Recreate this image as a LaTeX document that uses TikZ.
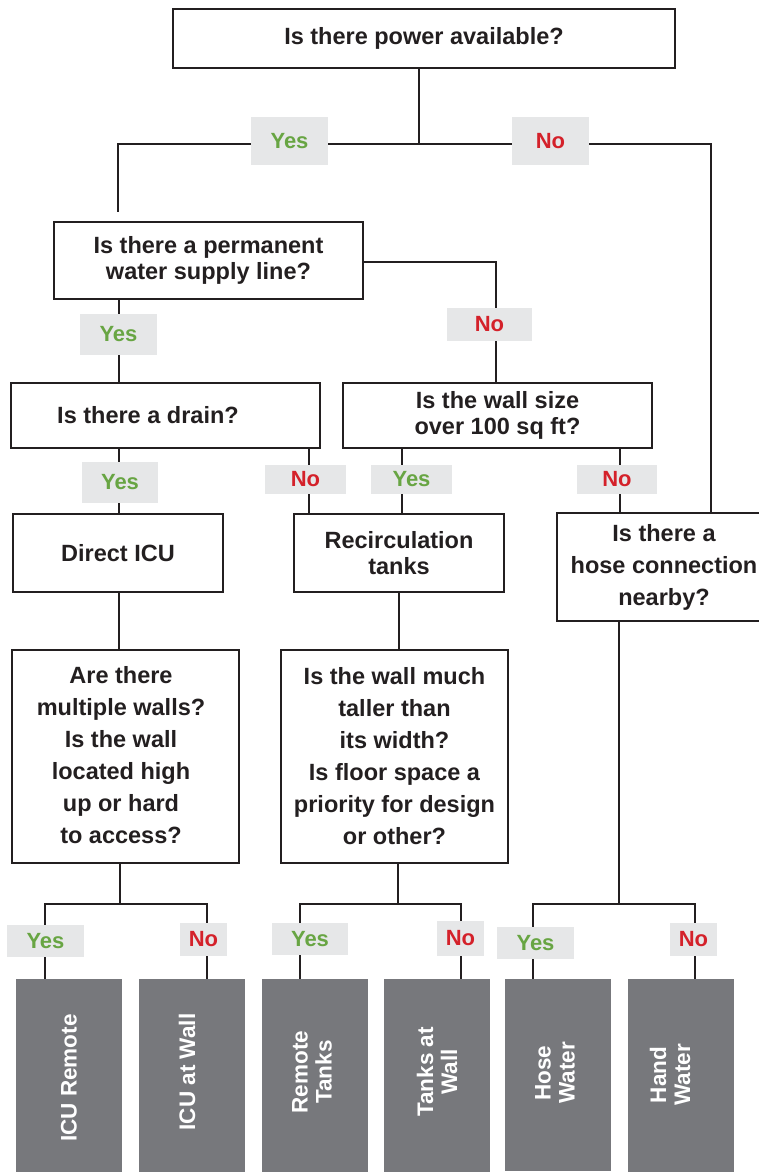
\documentclass[tikz,border=0pt]{standalone}
\usepackage{fontspec}
\setmainfont{Liberation Sans}
\definecolor{ink}{RGB}{35,31,32}
\definecolor{yesgreen}{RGB}{104,165,67}
\definecolor{nored}{RGB}{212,33,42}
\definecolor{lblgray}{RGB}{230,231,232}
\definecolor{leafgray}{RGB}{119,120,124}
\begin{document}
\begin{tikzpicture}[x=1pt,y=-1pt,
  qbox/.style={draw=ink,line width=2.8pt,inner sep=0pt,text=ink,align=center,
    font=\fontsize{23.5}{25.5}\selectfont\bfseries},
  qtext/.style={inner sep=0pt,text=ink,align=center,font=\fontsize{23.5}{25.5}\selectfont\bfseries},
  tallfont/.style={font=\fontsize{23.5}{32}\selectfont\bfseries},
  conn/.style={draw=ink,line width=2.5pt},
  yeslbl/.style={fill=lblgray,inner sep=0pt,text=yesgreen,font=\fontsize{22}{22}\selectfont\bfseries},
  nolbl/.style={fill=lblgray,inner sep=0pt,text=nored,font=\fontsize{22}{22}\selectfont\bfseries},
  leaf/.style={fill=leafgray,inner sep=0pt,minimum width=106pt},
  leaftxt/.style={rotate=90,text=white,inner sep=0pt,align=center,font=\fontsize{22.5}{24}\selectfont\bfseries}
]
\useasboundingbox (0,0) rectangle (759,1172);
\clip (0,0) rectangle (759,1172);

% question boxes
\node[qbox,minimum width=502pt,minimum height=59pt] (power) at (424,38.5) {Is there power available?};
\node[qbox,minimum width=309pt,minimum height=77pt] (water) at (208.5,260.5) {Is there a permanent\\water supply line?};
\node[qbox,minimum width=309pt,minimum height=65pt] (drain) at (165.5,415.5) {};
\node[qtext] (draint) at (148,415.5) {Is there a drain?};
\node[qbox,minimum width=309pt,minimum height=65pt] (wall) at (497.5,415.5) {Is the wall size\\over 100 sq ft?};
\node[qbox,minimum width=210pt,minimum height=78pt] (direct) at (118,553) {Direct ICU};
\node[qbox,minimum width=210pt,minimum height=78pt] (recirc) at (399,553) {Recirculation\\tanks};
\node[qbox,tallfont,minimum width=214pt,minimum height=108pt] (hose) at (664,567) {Is there a\\hose connection\\nearby?};
\node[qbox,minimum width=227pt,minimum height=213pt] (multi) at (125.5,756.5) {};
\node[qtext,tallfont] (multit) at (121,755) {Are there\\multiple walls?\\Is the wall\\located high\\up or hard\\to access?};
\node[qbox,tallfont,minimum width=227pt,minimum height=213pt] (tall) at (394.5,756.5) {Is the wall much\\taller than\\its width?\\Is floor space a\\priority for design\\or other?};

% leaves
\node[leaf,minimum height=193pt] (leaf1) at (69,1075.5) {};
\node[leaf,minimum height=193pt] (leaf2) at (192,1075.5) {};
\node[leaf,minimum height=193pt] (leaf3) at (315,1075.5) {};
\node[leaf,minimum height=193pt] (leaf4) at (437,1075.5) {};
\node[leaf,minimum height=192pt] (leaf5) at (557.5,1075) {};
\node[leaf,minimum height=193pt] (leaf6) at (681,1075.5) {};
\node[leaftxt] (leaf1t) at (69,1078) {ICU Remote};
\node[leaftxt] (leaf2t) at (187,1072) {ICU at Wall};
\node[leaftxt] (leaf3t) at (312,1072) {Remote\\Tanks};
\node[leaftxt] (leaf4t) at (437,1072) {Tanks at\\Wall};
\node[leaftxt] (leaf5t) at (555,1073) {Hose\\Water};
\node[leaftxt] (leaf6t) at (670,1075) {Hand\\Water};

% coordinates
\coordinate (pj) at (419,144);
\coordinate (wtop) at (118,212);
\coordinate (hr) at (711,144);
\coordinate (wr) at (496,262);
\coordinate (vx1) at (119,0);
\coordinate (vx2) at (309,0);
\coordinate (vx3) at (402,0);
\coordinate (vx4) at (620,0);
\coordinate (vx5) at (399,0);
\coordinate (s1) at (120,904);
\coordinate (s1l) at (45,904);
\coordinate (s1r) at (207,904);
\coordinate (s2) at (398,904);
\coordinate (s2l) at (300,904);
\coordinate (s2r) at (461,904);
\coordinate (s3) at (619,904);
\coordinate (s3l) at (533,904);
\coordinate (s3r) at (695,904);

% connectors
\draw[conn] (power.south -| pj) -- (pj);
\draw[conn] (pj) -| (wtop);
\draw[conn] (pj) -- (hr) -- (hr |- hose.north);
\draw[conn] (water.east |- wr) -- (wr) -- (wr |- wall.north);
\draw[conn] (water.south -| vx1) -- (drain.north -| vx1);
\draw[conn] (drain.south -| vx1) -- (direct.north -| vx1);
\draw[conn] (drain.south -| vx2) -- (recirc.north -| vx2);
\draw[conn] (wall.south -| vx3) -- (recirc.north -| vx3);
\draw[conn] (wall.south -| vx4) -- (hose.north -| vx4);
\draw[conn] (direct.south -| vx1) -- (multi.north -| vx1);
\draw[conn] (recirc.south -| vx5) -- (tall.north -| vx5);
\draw[conn] (multi.south -| s1) -- (s1);
\draw[conn] (leaf1.north -| s1l) -- (s1l) -- (s1r) -- (leaf2.north -| s1r);
\draw[conn] (tall.south -| s2) -- (s2);
\draw[conn] (leaf3.north -| s2l) -- (s2l) -- (s2r) -- (leaf4.north -| s2r);
\draw[conn] (hose.south -| s3) -- (s3);
\draw[conn] (leaf5.north -| s3l) -- (s3l) -- (s3r) -- (leaf6.north -| s3r);

% labels
\node[yeslbl,minimum width=77pt,minimum height=48pt] (y1) at (289.5,141) {Yes};
\node[nolbl,minimum width=77pt,minimum height=48pt] (n1) at (550.5,141) {No};
\node[yeslbl,minimum width=77pt,minimum height=41pt] (y2) at (118.5,334.5) {Yes};
\node[nolbl,minimum width=85pt,minimum height=33pt] (n2) at (489.5,324.5) {No};
\node[yeslbl,minimum width=76pt,minimum height=41pt] (y3) at (120,482.5) {Yes};
\node[nolbl,minimum width=81pt,minimum height=29pt] (n3) at (305.5,479.5) {No};
\node[yeslbl,minimum width=81pt,minimum height=29pt] (y4) at (411.5,479.5) {Yes};
\node[nolbl,minimum width=80pt,minimum height=29pt] (n4) at (617,479.5) {No};
\node[yeslbl,minimum width=77pt,minimum height=32pt] (y5) at (45.5,941) {Yes};
\node[nolbl,minimum width=47pt,minimum height=33pt] (n5) at (203.5,939.5) {No};
\node[yeslbl,minimum width=76pt,minimum height=32pt] (y6) at (310,939) {Yes};
\node[nolbl,minimum width=47pt,minimum height=35pt] (n6) at (460.5,938.5) {No};
\node[yeslbl,minimum width=77pt,minimum height=32pt] (y7) at (535.5,943) {Yes};
\node[nolbl,minimum width=47pt,minimum height=33pt] (n7) at (693.5,939.5) {No};
\end{tikzpicture}
\end{document}
